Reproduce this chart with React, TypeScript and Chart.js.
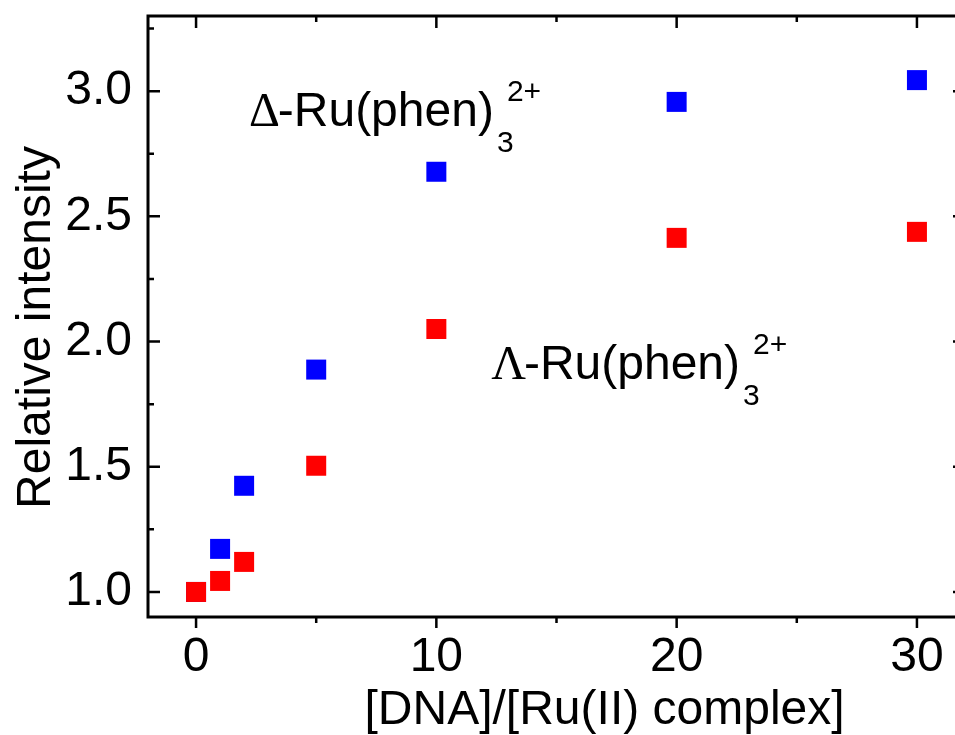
import React, { useEffect, useRef } from 'react';
import { Chart, registerables } from 'chart.js';

Chart.register(...registerables);

// ---- data ----
const X_VALUES = [0, 1, 2, 5, 10, 20, 30];
const DELTA_VALUES = [1.0, 1.172, 1.424, 1.888, 2.678, 2.957, 3.044];
const LAMBDA_VALUES = [1.0, 1.044, 1.12, 1.504, 2.05, 2.414, 2.438];
const X_MAJOR_TICKS = [0, 10, 20, 30];
const X_MINOR_TICKS = [5, 15, 25];
const Y_MAJOR_TICKS = [1.0, 1.5, 2.0, 2.5, 3.0];
const Y_MINOR_TICKS = [1.25, 1.75, 2.25, 2.75, 3.25];
const X_TITLE = '[DNA]/[Ru(II) complex]';
const Y_TITLE = 'Relative intensity';
const DELTA_LABEL = { greek: 'Δ', x: 2.2, y: 2.86 };
const LAMBDA_LABEL = { greek: 'Λ', x: 12.28, y: 1.85 };

const SANS = '"Liberation Sans", Arial, sans-serif';
const SERIF = '"Liberation Serif", "Times New Roman", serif';

function drawComplexLabel(ctx: CanvasRenderingContext2D, greek: string, x: number, y: number) {
  ctx.textAlign = 'left';
  ctx.textBaseline = 'alphabetic';
  ctx.font = `48px ${SERIF}`;
  ctx.fillText(greek, x, y);
  let cx = x + ctx.measureText(greek).width - 2;
  ctx.font = `48px ${SANS}`;
  ctx.fillText('-Ru(phen)', cx, y);
  cx += ctx.measureText('-Ru(phen)').width;
  ctx.font = `30px ${SANS}`;
  ctx.fillText('3', cx + 3, y + 26);
  ctx.fillText('2+', cx + 13, y - 25);
}

const framePlugin = {
  id: 'frameTicks',
  afterDraw(chart: any) {
    const { ctx, chartArea, scales } = chart;
    const { left, right, top, bottom } = chartArea;
    const xs = scales.x;
    const ys = scales.y;
    ctx.save();
    ctx.strokeStyle = '#000';
    ctx.lineWidth = 3;
    ctx.strokeRect(left, top, right - left, bottom - top);
    ctx.lineWidth = 2.5;
    ctx.beginPath();
    X_MAJOR_TICKS.forEach((v) => {
      const p = xs.getPixelForValue(v);
      ctx.moveTo(p, bottom); ctx.lineTo(p, bottom + 11);
      ctx.moveTo(p, top); ctx.lineTo(p, top + 12);
    });
    X_MINOR_TICKS.forEach((v) => {
      const p = xs.getPixelForValue(v);
      ctx.moveTo(p, bottom); ctx.lineTo(p, bottom + 6);
      ctx.moveTo(p, top); ctx.lineTo(p, top + 6);
    });
    Y_MAJOR_TICKS.forEach((v) => {
      const p = ys.getPixelForValue(v);
      ctx.moveTo(left, p); ctx.lineTo(left + 12, p);
      ctx.moveTo(right, p); ctx.lineTo(right - 12, p);
    });
    Y_MINOR_TICKS.forEach((v) => {
      const p = ys.getPixelForValue(v);
      ctx.moveTo(left, p); ctx.lineTo(left + 6, p);
      ctx.moveTo(right, p); ctx.lineTo(right - 6, p);
    });
    ctx.stroke();

    ctx.fillStyle = '#000';
    // axis titles
    ctx.font = `48px ${SANS}`;
    ctx.textAlign = 'center';
    ctx.textBaseline = 'alphabetic';
    ctx.fillText(X_TITLE, xs.getPixelForValue(17), 724);
    ctx.save();
    ctx.translate(50, (top + bottom) / 2 + 11);
    ctx.rotate(-Math.PI / 2);
    ctx.fillText(Y_TITLE, 0, 0);
    ctx.restore();

    // annotations
    drawComplexLabel(ctx, DELTA_LABEL.greek, xs.getPixelForValue(DELTA_LABEL.x), ys.getPixelForValue(DELTA_LABEL.y));
    drawComplexLabel(ctx, LAMBDA_LABEL.greek, xs.getPixelForValue(LAMBDA_LABEL.x), ys.getPixelForValue(LAMBDA_LABEL.y));
    ctx.restore();
  },
};

export default function App() {
  const canvasRef = useRef<HTMLCanvasElement | null>(null);

  useEffect(() => {
    if (!canvasRef.current) return;
    const zeroPad = (s: any) => {
      s.paddingTop = 0; s.paddingBottom = 0; s.paddingLeft = 0; s.paddingRight = 0;
    };
    const chart = new Chart(canvasRef.current, {
      type: 'scatter',
      data: {
        datasets: [
          {
            label: 'Λ-Ru(phen)3 2+',
            data: X_VALUES.map((x, i) => ({ x, y: LAMBDA_VALUES[i] })),
            backgroundColor: '#ff0000',
            borderColor: '#ff0000',
            borderWidth: 0,
            pointStyle: 'rect',
            pointRadius: 14.14,
            pointHoverRadius: 14.14,
          },
          {
            label: 'Δ-Ru(phen)3 2+',
            data: X_VALUES.map((x, i) => ({ x, y: DELTA_VALUES[i] })),
            backgroundColor: '#0000ff',
            borderColor: '#0000ff',
            borderWidth: 0,
            pointStyle: 'rect',
            pointRadius: 14.14,
            pointHoverRadius: 14.14,
          },
        ],
      },
      options: {
        animation: false,
        responsive: false,
        maintainAspectRatio: false,
        events: [],
        layout: { padding: { left: 0, top: 16, right: 35, bottom: 0 } },
        plugins: { legend: { display: false }, tooltip: { enabled: false }, title: { display: false } },
        scales: {
          x: {
            type: 'linear',
            position: 'bottom',
            min: -2,
            max: 32,
            afterBuildTicks: (s: any) => { s.ticks = X_MAJOR_TICKS.map((v) => ({ value: v })); },
            afterFit: (s: any) => { s.height = 118; zeroPad(s); },
            grid: { display: true, drawOnChartArea: false, drawTicks: false, lineWidth: 0 },
            border: { display: false },
            ticks: {
              font: { family: SANS, size: 48 },
              color: '#000',
              padding: 12,
              maxRotation: 0,
              autoSkip: false,
              callback: (v: any) => String(v),
            },
          },
          y: {
            type: 'linear',
            position: 'left',
            min: 0.9,
            max: 3.3,
            afterBuildTicks: (s: any) => { s.ticks = Y_MAJOR_TICKS.map((v) => ({ value: v })); },
            afterFit: (s: any) => { s.width = 148; zeroPad(s); },
            grid: { display: true, drawOnChartArea: false, drawTicks: false, lineWidth: 0 },
            border: { display: false },
            ticks: {
              font: { family: SANS, size: 48 },
              color: '#000',
              padding: 16,
              autoSkip: false,
              callback: (v: any) => Number(v).toFixed(1),
            },
          },
        },
      },
      plugins: [framePlugin],
    });
    return () => chart.destroy();
  }, []);

  return (
    <div style={{ position: 'absolute', left: 0, top: 0, width: 955, height: 735, overflow: 'hidden', background: '#fff' }}>
      <canvas ref={canvasRef} width={1000} height={735} style={{ display: 'block', width: 1000, height: 735 }} />
    </div>
  );
}
